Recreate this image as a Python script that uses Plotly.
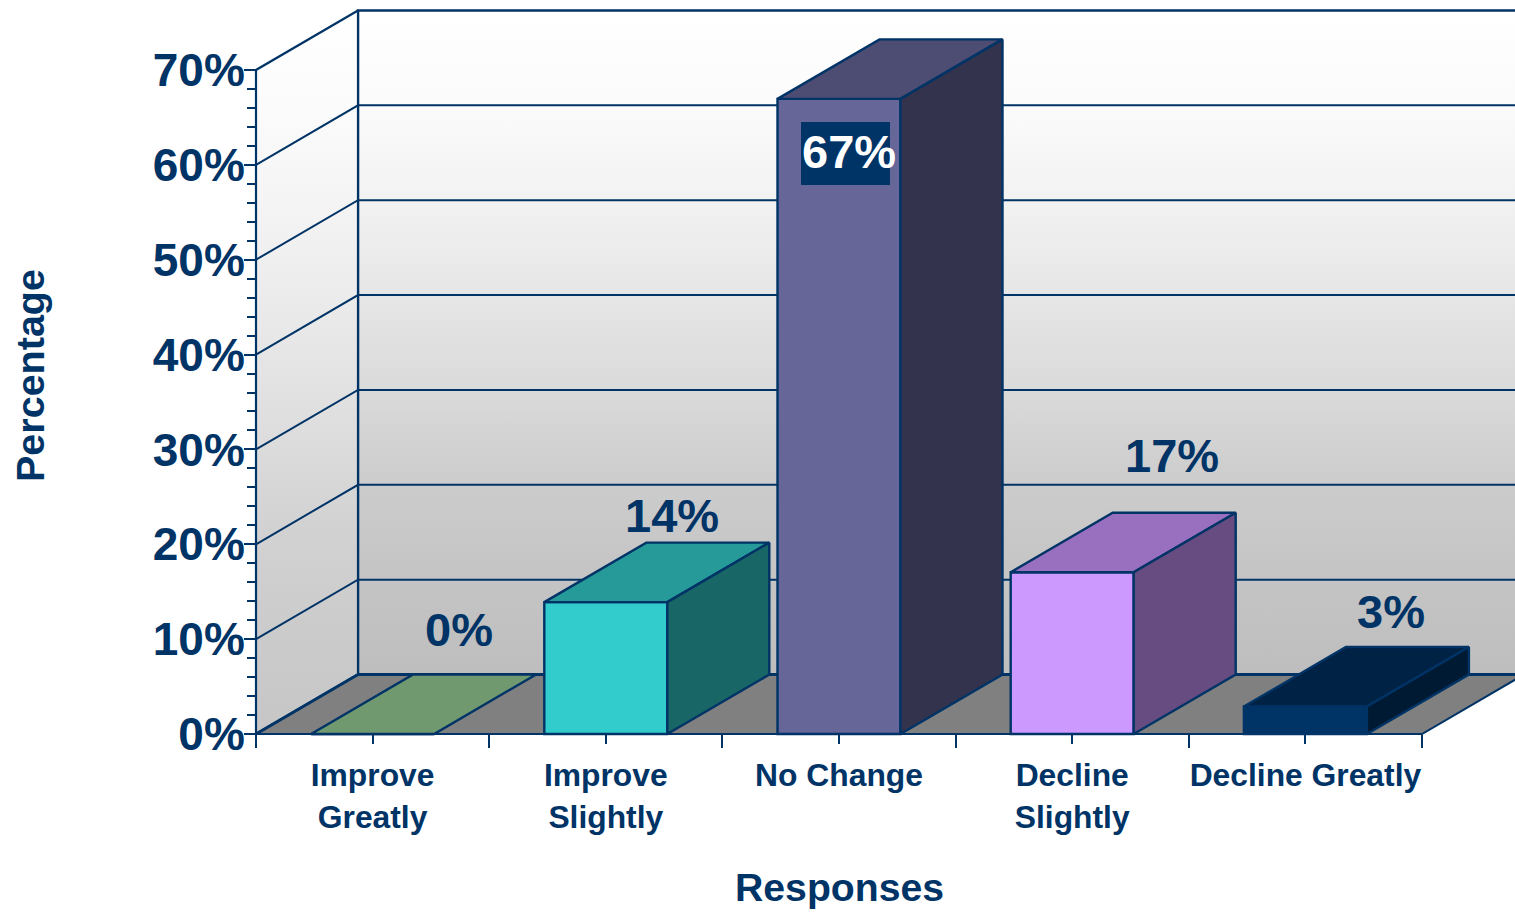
import plotly.graph_objects as go

# ---- data ----
categories = ["Improve<br>Greatly", "Improve<br>Slightly", "No Change", "Decline<br>Slightly", "Decline Greatly"]
percentages = [0, 13.9, 66.95, 17.05, 2.9]
value_labels = ["0%", "14%", "67%", "17%", "3%"]
y_tick_values = [0, 10, 20, 30, 40, 50, 60, 70]
y_tick_labels = ["0%", "10%", "20%", "30%", "40%", "50%", "60%", "70%"]
y_minor_values = [v for v in range(0, 71, 2) if v % 10]

# ---- styling and geometry ----
W, H = 1515, 913
X0_PX, UNIT_X = 256, 233.2      # pixel of x=0, pixels per category
Y0_PX, UNIT_Y = 734, 9.486      # pixel of y=0, pixels per percent
DX, DY = 102 / UNIT_X, 59.5 / UNIT_Y   # pseudo-3D depth in data units
BAR_W = 123 / UNIT_X
NAVY = "#003366"
FONT = "Liberation Sans"
front = ["#709970", "#33CCCC", "#666699", "#CC99FF", "#003366"]
top = ["#709970", "#269999", "#4D4D73", "#9970BF", "#002244"]
side = ["#557555", "#196666", "#33334D", "#664C80", "#001A33"]
label_dx = [86, 66, 10, 100, 86]
label_dy = [-105, -87, 53, -117, -95]

x_range = [-X0_PX / UNIT_X, (W - X0_PX) / UNIT_X]
y_range = [(Y0_PX - H) / UNIT_Y, Y0_PX / UNIT_Y]
centers = [i + 0.5 for i in range(len(categories))]
boundaries = list(range(len(categories) + 1))
x_end = len(categories)
y_top = y_tick_values[-1]

fig = go.Figure()


def poly(xs, ys, fill=None, gradient=None, lw=1.5, line=NAVY, axes=("x", "y")):
    kw = dict(fillgradient=gradient) if gradient else dict(fillcolor=fill)
    fig.add_trace(go.Scatter(x=xs + xs[:1], y=ys + ys[:1], mode="lines", fill="toself",
                             line=dict(color=line, width=lw), hoverinfo="skip",
                             showlegend=False, xaxis=axes[0], yaxis=axes[1], **kw))


def seg(xs, ys, lw=1.5, axes=("x", "y")):
    fig.add_trace(go.Scatter(x=xs, y=ys, mode="lines", line=dict(color=NAVY, width=lw),
                             hoverinfo="skip", showlegend=False, xaxis=axes[0], yaxis=axes[1]))


grad_back = dict(type="vertical", colorscale=[[0, "#BEBEBE"], [0.14, "#C4C4C4"], [0.286, "#CCCCCC"], [0.428, "#DADADA"],
                                              [0.572, "#E6E6E6"], [0.714, "#F2F2F2"], [0.858, "#FBFBFB"], [1, "#FFFFFF"]])
grad_side = dict(type="vertical", colorscale=[[0, "#C6C6C6"], [0.14, "#CBCBCB"], [0.286, "#D2D2D2"], [0.428, "#DEDEDE"],
                                              [0.572, "#E9E9E9"], [0.714, "#F3F3F3"], [0.858, "#FBFBFB"], [1, "#FFFFFF"]])

# walls and floor
poly([DX, x_end + DX, x_end + DX, DX], [DY, DY, y_top + DY, y_top + DY], gradient=grad_back, lw=2.4)
poly([0, DX, DX, 0], [0, DY, y_top + DY, y_top], gradient=grad_side, lw=2.2)
poly([0, x_end, x_end + DX, DX], [0, 0, DY, DY], fill="#808080", lw=2)
seg([DX, x_end + DX], [DY, DY], lw=3)
seg([0, DX], [0, DY], lw=3)
for v in y_tick_values[1:-1]:
    seg([0, DX, x_end + DX], [v, v + DY, v + DY], lw=2)

# bars: front faces
fig.add_trace(go.Bar(x=centers, y=percentages, width=BAR_W, marker=dict(color=front, line=dict(color=NAVY, width=2.4)),
                     hoverinfo="skip", showlegend=False, xaxis="x2", yaxis="y2"))
# bars: top and side faces
for c, v, ct, cs in zip(centers, percentages, top, side):
    l, r = c - BAR_W / 2, c + BAR_W / 2
    poly([l, r, r + DX, l + DX], [v, v, v + DY, v + DY], fill=ct, lw=2.4, axes=("x2", "y2"))
    if v > 0:
        poly([r, r + DX, r + DX, r], [0, DY, v + DY, v], fill=cs, lw=2.4, axes=("x2", "y2"))

# value labels
annotations = []
for c, v, t, dx, dy in zip(centers, percentages, value_labels, label_dx, label_dy):
    is_inside = v > 50
    if is_inside:
        # dark plate behind the label; the label runs slightly past its right edge
        annotations.append(dict(x=c, y=v, xref="x2", yref="y2", text=" ", showarrow=False, xshift=6.5, yshift=-54.5,
                                bgcolor=NAVY, width=89, height=63, borderpad=0, borderwidth=0,
                                font=dict(family=FONT, size=20, color=NAVY)))
    annotations.append(dict(x=c, y=v, xref="x2", yref="y2", text=t, showarrow=False, xshift=dx, yshift=-dy,
                            font=dict(family=FONT, size=47, color="white" if is_inside else NAVY, weight=700)))

# axis titles
annotations.append(dict(x=839 / W, y=1 - 887 / H, xref="paper", yref="paper", xanchor="center", yanchor="middle",
                        text="Responses", showarrow=False, font=dict(family=FONT, size=39.2, color=NAVY, weight=700)))
annotations.append(dict(x=30 / W, y=1 - 376 / H, xref="paper", yref="paper", xanchor="center", yanchor="middle",
                        text="Percentage", showarrow=False, textangle=-90,
                        font=dict(family=FONT, size=39.5, color=NAVY, weight=700)))

fig.update_layout(
    width=W, height=H, margin=dict(l=0, r=0, t=0, b=0), paper_bgcolor="white", plot_bgcolor="white",
    showlegend=False, annotations=annotations, barmode="overlay",
    xaxis=dict(range=x_range, domain=[0, 1], anchor="free", position=1 - Y0_PX / H, showgrid=False, zeroline=False,
               showline=False, tickmode="array", tickvals=centers, ticktext=categories, ticks="outside",
               ticklen=9, tickwidth=2, tickcolor=NAVY, ticklabelstandoff=4,
               tickfont=dict(family=FONT, size=31.8, color=NAVY, weight=700),
               minor=dict(tickmode="array", tickvals=boundaries, ticks="outside", ticklen=13, tickwidth=2,
                          tickcolor=NAVY, showgrid=False)),
    yaxis=dict(range=y_range, domain=[0, 1], anchor="free", position=X0_PX / W, showgrid=False, zeroline=False,
               showline=False, tickmode="array", tickvals=y_tick_values, ticktext=y_tick_labels, ticks="outside",
               ticklen=12, tickwidth=2, tickcolor=NAVY, ticklabelstandoff=-10,
               tickfont=dict(family=FONT, size=46, color=NAVY, weight=700),
               minor=dict(tickmode="array", tickvals=y_minor_values, ticks="outside", ticklen=9, tickwidth=2,
                          tickcolor=NAVY, showgrid=False)),
    xaxis2=dict(range=x_range, overlaying="x", visible=False),
    yaxis2=dict(range=y_range, overlaying="y", visible=False),
)

fig.write_html("out.html", config={"displayModeBar": False},
               post_script="document.body.style.margin='0';document.body.style.overflow='hidden';")
